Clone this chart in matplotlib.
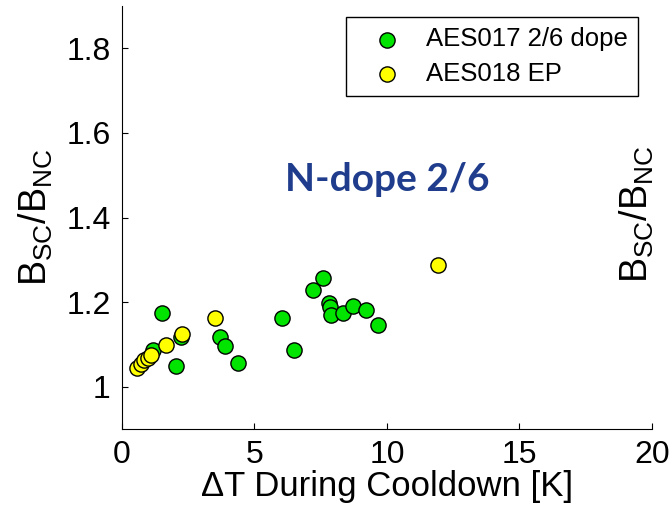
import matplotlib
matplotlib.use('Agg')
from matplotlib import pyplot as plt

plt.rcParams['font.family'] = ['Liberation Sans', 'DejaVu Sans']
plt.rcParams['mathtext.fontset'] = 'custom'
plt.rcParams['mathtext.rm'] = 'Liberation Sans'
plt.rcParams['mathtext.it'] = 'Liberation Sans'

# AES017 2/6 dope (green)
dt_017 = [1.16, 1.50, 2.04, 2.23, 3.70, 3.89, 4.37, 6.03, 6.50, 7.22, 7.57,
          7.81, 7.85, 7.89, 8.33, 8.73, 9.21, 9.67]
b_017 = [1.086, 1.174, 1.049, 1.118, 1.117, 1.097, 1.056, 1.163, 1.087, 1.228, 1.256,
         1.197, 1.189, 1.170, 1.174, 1.191, 1.181, 1.146]

# AES018 EP (yellow)
dt_018 = [0.55, 0.70, 0.83, 0.97, 1.08, 1.65, 2.25, 3.53, 11.91]
b_018 = [1.044, 1.054, 1.062, 1.068, 1.075, 1.099, 1.125, 1.162, 1.287]

fig = plt.figure(figsize=(6.72, 5.05), dpi=100)
ax = fig.add_axes([0.1815, 0.1505, 0.7885, 0.8375])

ax.scatter(dt_017, b_017, s=120, color='#00e400', edgecolors='black', linewidths=1,
           label='AES017 2/6 dope', zorder=3)
ax.scatter(dt_018, b_018, s=120, color='#ffff00', edgecolors='black', linewidths=1,
           label='AES018 EP', zorder=4)

ax.set_xlim(0, 20)
ax.set_ylim(0.9, 1.9)
ax.set_xticks([0, 5, 10, 15, 20])
ax.set_yticks([1, 1.2, 1.4, 1.6, 1.8])
ax.set_yticklabels(['1', '1.2', '1.4', '1.6', '1.8'])
ax.tick_params(direction='in', length=4, labelsize=23, pad=8)

for s in ['top', 'right']:
    ax.spines[s].set_visible(False)

ax.set_xlabel('ΔT During Cooldown [K]', fontsize=25, labelpad=0)
ylab = r'$\mathregular{B_{SC}/B_{NC}}$'
ax.set_ylabel(ylab, fontsize=27, labelpad=8)
fig.text(0.948, 0.575, ylab, fontsize=27, rotation=90, ha='center', va='center')

ax.text(0.5, 0.59, 'N-dope 2/6', transform=ax.transAxes, fontsize=28,
        fontweight='bold', color='#1f3d8c', family='Lato', ha='center', va='center')

leg = ax.legend(loc='upper right', bbox_to_anchor=(0.974, 0.974), fontsize=18.5,
                fancybox=False, edgecolor='black', framealpha=1, borderpad=0.4,
                handlelength=2.4, handletextpad=0.3, borderaxespad=0,
                labelspacing=0.42, scatterpoints=1)
leg.get_frame().set_linewidth(1)

plt.savefig('out.png')
